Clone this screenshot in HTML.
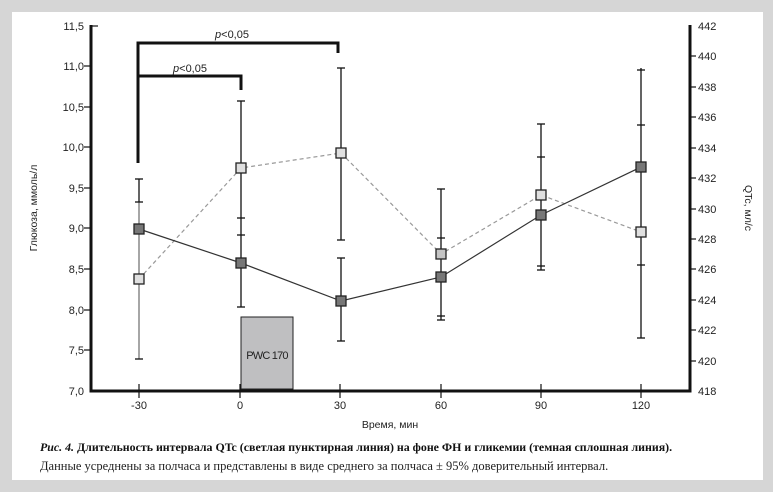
<!DOCTYPE html><html><head><meta charset="utf-8"><style>body{margin:0;background:#d9d9d9}svg{display:block}</style></head><body>
<svg width="773" height="492" xmlns="http://www.w3.org/2000/svg" font-family="Liberation Sans, sans-serif">
<rect x="0" y="0" width="773" height="492" fill="#d6d6d6"/>
<rect x="12" y="12" width="751" height="468" fill="#fff"/>
<g stroke="#111" stroke-width="3" fill="none">
<polyline points="91,25 91,391 690,391 690,25"/>
<polyline points="138,163 138,43 338,43 338,53"/>
<polyline points="138,76 241,76 241,90"/>
</g>
<g stroke="#111" stroke-width="1.2">
<line x1="91" y1="26" x2="98" y2="26"/><line x1="84" y1="66" x2="91" y2="66"/><line x1="84" y1="107" x2="91" y2="107"/><line x1="84" y1="147" x2="91" y2="147"/><line x1="84" y1="188" x2="91" y2="188"/><line x1="84" y1="228" x2="91" y2="228"/><line x1="84" y1="269" x2="91" y2="269"/><line x1="84" y1="310" x2="91" y2="310"/><line x1="84" y1="350" x2="91" y2="350"/>
<line x1="139" y1="384" x2="139" y2="398"/><line x1="240" y1="384" x2="240" y2="398"/><line x1="340" y1="384" x2="340" y2="398"/><line x1="441" y1="384" x2="441" y2="398"/><line x1="541" y1="384" x2="541" y2="398"/><line x1="641" y1="384" x2="641" y2="398"/>
</g>
<g stroke="#111" stroke-width="1.2">
<line x1="690" y1="56" x2="696" y2="56"/><line x1="690" y1="87" x2="696" y2="87"/><line x1="690" y1="117" x2="696" y2="117"/><line x1="690" y1="148" x2="696" y2="148"/><line x1="690" y1="178" x2="696" y2="178"/><line x1="690" y1="209" x2="696" y2="209"/><line x1="690" y1="239" x2="696" y2="239"/><line x1="690" y1="269" x2="696" y2="269"/><line x1="690" y1="300" x2="696" y2="300"/><line x1="690" y1="330" x2="696" y2="330"/><line x1="690" y1="361" x2="696" y2="361"/>
</g>
<g font-size="11" fill="#222" text-anchor="end">
<text x="84" y="30">11,5</text><text x="84" y="70">11,0</text><text x="84" y="111">10,5</text><text x="84" y="151">10,0</text><text x="84" y="192">9,5</text><text x="84" y="232">9,0</text><text x="84" y="273">8,5</text><text x="84" y="314">8,0</text><text x="84" y="354">7,5</text><text x="84" y="395">7,0</text>
</g>
<g font-size="11" fill="#222">
<text x="698" y="30">442</text><text x="698" y="60">440</text><text x="698" y="91">438</text><text x="698" y="121">436</text><text x="698" y="152">434</text><text x="698" y="182">432</text><text x="698" y="213">430</text><text x="698" y="243">428</text><text x="698" y="273">426</text><text x="698" y="304">424</text><text x="698" y="334">422</text><text x="698" y="365">420</text><text x="698" y="395">418</text>
</g>
<g font-size="11" fill="#222" text-anchor="middle">
<text x="139" y="409">-30</text><text x="240" y="409">0</text><text x="340" y="409">30</text><text x="441" y="409">60</text><text x="541" y="409">90</text><text x="641" y="409">120</text>
<text x="390" y="428" font-size="10.5">Время, мин</text>
<text x="232" y="38" font-size="11"><tspan font-style="italic">p</tspan>&lt;0,05</text>
<text x="190" y="72" font-size="11"><tspan font-style="italic">p</tspan>&lt;0,05</text>
</g>
<text transform="translate(37,208) rotate(-90)" font-size="10.5" fill="#222" text-anchor="middle">Глюкоза, ммоль/л</text>
<text transform="translate(745,208) rotate(90)" font-size="10.5" fill="#222" text-anchor="middle">QTc, мл/с</text>
<rect x="241" y="317" width="52" height="72" fill="#bfbfc1" stroke="#222" stroke-width="1"/>
<text x="267" y="359" font-size="11" text-anchor="middle" fill="#222" letter-spacing="-0.8">PWC 170</text>
<g stroke="#111" stroke-width="1.3">
<line x1="139" y1="179" x2="139" y2="202"/><line x1="139" y1="202" x2="139" y2="359" stroke="#777"/>
<line x1="135" y1="179" x2="143" y2="179"/><line x1="135" y1="202" x2="143" y2="202"/><line x1="135" y1="359" x2="143" y2="359"/>
<line x1="241" y1="101" x2="241" y2="307"/><line x1="237" y1="101" x2="245" y2="101"/><line x1="237" y1="218" x2="245" y2="218"/><line x1="237" y1="235" x2="245" y2="235"/><line x1="237" y1="307" x2="245" y2="307"/>
<line x1="341" y1="68" x2="341" y2="240"/><line x1="337" y1="68" x2="345" y2="68"/><line x1="337" y1="240" x2="345" y2="240"/>
<line x1="341" y1="258" x2="341" y2="341"/><line x1="337" y1="258" x2="345" y2="258"/><line x1="337" y1="341" x2="345" y2="341"/>
<line x1="441" y1="189" x2="441" y2="320"/><line x1="437" y1="189" x2="445" y2="189"/><line x1="437" y1="238" x2="445" y2="238"/><line x1="437" y1="316" x2="445" y2="316"/><line x1="437" y1="320" x2="445" y2="320"/>
<line x1="541" y1="124" x2="541" y2="270"/><line x1="537" y1="124" x2="545" y2="124"/><line x1="537" y1="157" x2="545" y2="157"/><line x1="537" y1="266" x2="545" y2="266"/><line x1="537" y1="270" x2="545" y2="270"/>
<line x1="641" y1="68" x2="641" y2="338"/><line x1="637" y1="70" x2="645" y2="70"/><line x1="637" y1="125" x2="645" y2="125"/><line x1="637" y1="265" x2="645" y2="265"/><line x1="637" y1="338" x2="645" y2="338"/>
</g>
<polyline points="139,279 241,168 341,153 441,254 541,195 641,232" fill="none" stroke="#999" stroke-width="1.2" stroke-dasharray="4,3"/>
<polyline points="139,229 241,263 341,301 441,277 541,215 641,167" fill="none" stroke="#333" stroke-width="1.2"/>
<g fill="#e0e0e0" stroke="#222" stroke-width="1.3">
<rect x="134" y="274" width="10" height="10"/><rect x="236" y="163" width="10" height="10"/><rect x="336" y="148" width="10" height="10"/><rect x="436" y="249" width="10" height="10" fill="#c4c4c4"/><rect x="536" y="190" width="10" height="10"/><rect x="636" y="227" width="10" height="10"/>
</g>
<g fill="#777" stroke="#222" stroke-width="1.3">
<rect x="134" y="224" width="10" height="10"/><rect x="236" y="258" width="10" height="10"/><rect x="336" y="296" width="10" height="10"/><rect x="436" y="272" width="10" height="10"/><rect x="536" y="210" width="10" height="10"/><rect x="636" y="162" width="10" height="10"/>
</g>
<text x="40" y="451" font-family="Liberation Serif, serif" font-size="11.9" font-weight="bold" fill="#111"><tspan font-style="italic">Рис. 4.</tspan> Длительность интервала QTc (светлая пунктирная линия) на фоне ФН и гликемии (темная сплошная линия).</text>
<text x="40" y="470" font-family="Liberation Serif, serif" font-size="12.5" fill="#222">Данные усреднены за полчаса и представлены в виде среднего за полчаса ± 95%  доверительный интервал.</text>
</svg>
</body></html>
